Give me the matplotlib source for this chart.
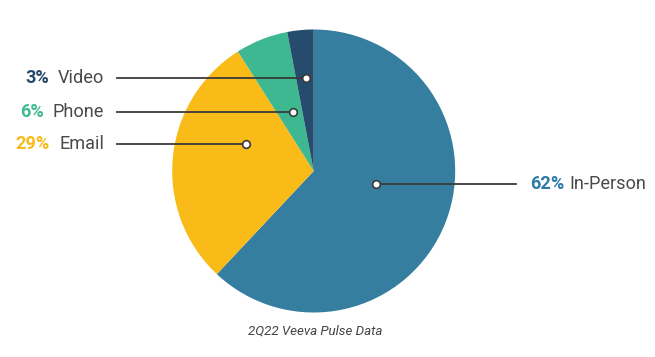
import numpy as np
import matplotlib
matplotlib.use('Agg')
from matplotlib import pyplot as plt

# data
channels = ['In-Person', 'Email', 'Phone', 'Video']
shares = [62, 29, 6, 3]
slice_colors = ['#357ea0', '#f9bb17', '#3db890', '#254b6d']
pct_colors = ['#2e7aa9', '#f8bb18', '#3fb990', '#274a6b']

# where on each wedge the leader dot sits (fraction along wedge, fraction of radius)
dot_pos = [(0.456, 0.45), (0.654, 0.514), (0.59, 0.44), (0.565, 0.66)]
label_side = ['right', 'left', 'left', 'left']

W, H = 655, 357
plt.rcParams['font.family'] = ['Roboto', 'DejaVu Sans']

fig = plt.figure(figsize=(W / 100, H / 100), dpi=100)
ax = fig.add_axes([0, 0, 1, 1])
ax.set_xlim(0, W)
ax.set_ylim(0, H)
ax.set_aspect('equal')
ax.axis('off')

cx, cy, R = 313.7, 186, 141.5
wedges, _ = ax.pie(shares, colors=slice_colors, startangle=90, counterclock=False,
                   center=(cx, cy), radius=R, wedgeprops=dict(linewidth=0))
ax.set_xlim(0, W)
ax.set_ylim(0, H)

fig.canvas.draw()
renderer = fig.canvas.get_renderer()
inv = ax.transData.inverted()

fs = 13.1
for w, name, val, pc, (t, rf), side in zip(wedges, channels, shares, pct_colors, dot_pos, label_side):
    a = np.deg2rad(w.theta2 - t * (w.theta2 - w.theta1))
    dx = cx + rf * R * np.cos(a)
    dy = cy + rf * R * np.sin(a)
    if side == 'left':
        ax.plot([117, dx], [dy, dy], color='#3a3a3a', lw=1.3, zorder=3)
        t_name = ax.text(104, dy, name, ha='right', va='center', fontsize=fs, color='#4a4a4a')
        bb = t_name.get_window_extent(renderer)
        x_left = inv.transform((bb.x0, 0))[0]
        ax.text(x_left - 9, dy, f'{val}%', ha='right', va='center', fontsize=fs,
                fontweight='bold', color=pc)
    else:
        ax.plot([dx, 516], [dy, dy], color='#3a3a3a', lw=1.3, zorder=3)
        t_pct = ax.text(530, dy, f'{val}%', ha='left', va='center', fontsize=fs,
                        fontweight='bold', color=pc)
        bb = t_pct.get_window_extent(renderer)
        x_right = inv.transform((bb.x1, 0))[0]
        ax.text(x_right + 5, dy, name, ha='left', va='center', fontsize=fs, color='#4a4a4a')
    ax.plot(dx, dy, 'o', ms=5.5, mfc='white', mec='#3a3a3a', mew=1.2, zorder=4)

ax.text(cx + 1, 26, '2Q22 Veeva Pulse Data', ha='center', va='center', fontsize=9.6,
        style='italic', color='#444444')

fig.savefig('out.png', dpi=100)
